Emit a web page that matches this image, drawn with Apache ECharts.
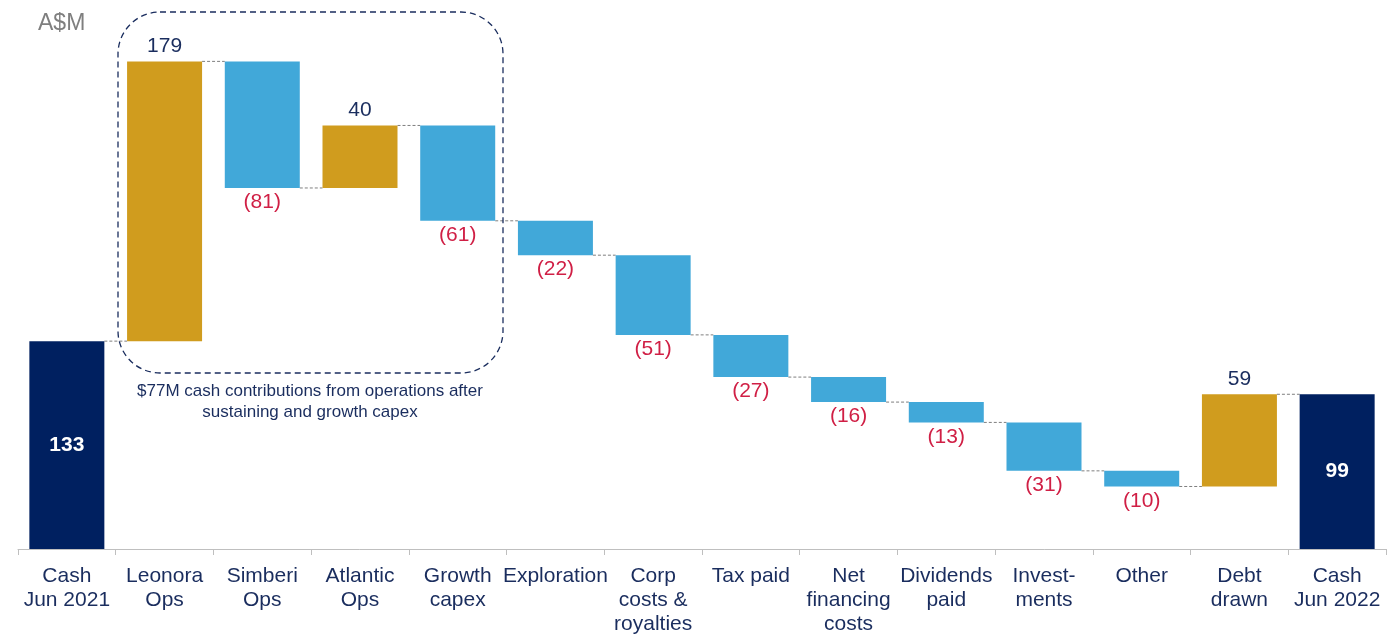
<!DOCTYPE html>
<html>
<head>
<meta charset="utf-8">
<script src="https://cdn.jsdelivr.net/npm/echarts@6/dist/echarts.min.js"></script>
<style>
html,body{margin:0;padding:0;background:#fff;}
#c{width:1399px;height:635px;}
</style>
</head>
<body>
<div id="c"></div>
<script>
const categories = ['Cash\nJun 2021','Leonora\nOps','Simberi\nOps','Atlantic\nOps','Growth\ncapex','Exploration','Corp\ncosts &\nroyalties','Tax paid','Net\nfinancing\ncosts','Dividends\npaid','Invest-\nments','Other','Debt\ndrawn','Cash\nJun 2022'];
const changes = [133,179,-81,40,-61,-22,-51,-27,-16,-13,-31,-10,59,99];
const kinds = ['total','up','down','up','down','down','down','down','down','down','down','down','up','total'];

const NAVY = '#002060', GOLD = '#D09C1E', BLUE = '#41A8D9';
const TXT = '#1A2D5E', RED = '#D01F45';
const FONT = 'Liberation Sans, Arial, sans-serif';

const base = [], height = [], levels = [];
let level = 0;
changes.forEach((v, i) => {
  if (kinds[i] === 'total') { base.push(0); height.push(v); level = v; }
  else if (v >= 0) { base.push(level); height.push(v); level += v; }
  else { level += v; base.push(level); height.push(-v); }
  levels.push(level);
});

const barData = height.map((h, i) => {
  const k = kinds[i];
  const color = k === 'total' ? NAVY : (k === 'up' ? GOLD : BLUE);
  let label;
  if (k === 'total') label = {show:true, position:'inside', color:'#fff', fontWeight:'bold', fontSize:21, fontFamily:FONT, formatter: String(changes[i])};
  else if (k === 'up') label = {show:true, position:'top', distance:5, color:TXT, fontSize:21, fontFamily:FONT, formatter: String(changes[i])};
  else label = {show:true, position:'bottom', distance:4, color:RED, fontSize:21, fontFamily:FONT, formatter: '(' + (-changes[i]) + ')'};
  return {value:h, itemStyle:{color}, label};
});

const connData = levels.slice(0, levels.length - 1).map((l, i) => [i, l]);
const BW = 75;

const chart = echarts.init(document.getElementById('c'), null, {renderer:'canvas'});
chart.setOption({
  animation:false,
  textStyle:{fontFamily:FONT},
  grid:{left:18, right:13, top:2, bottom:86, containLabel:false, outerBoundsMode:'none'},
  xAxis:{
    type:'category', data:categories,
    axisLine:{lineStyle:{color:'#BFBFBF', width:1}},
    axisTick:{show:true, length:6, lineStyle:{color:'#BFBFBF'}},
    axisLabel:{color:TXT, fontSize:21, lineHeight:24, margin:15, interval:0, fontFamily:FONT}
  },
  yAxis:{type:'value', min:0, max:350, show:false, splitLine:{show:false}},
  series:[
    {type:'bar', stack:'w', data:base, barWidth:BW, itemStyle:{color:'transparent'}, silent:true},
    {type:'bar', stack:'w', data:barData, barWidth:BW},
    {type:'custom', data:connData, z:1, silent:true,
      renderItem:function(params, api){
        const i = api.value(0), l = api.value(1);
        const p1 = api.coord([i, l]), p2 = api.coord([i + 1, l]);
        return {type:'line', shape:{x1:p1[0] + BW/2, y1:p1[1], x2:p2[0] - BW/2, y2:p2[1]},
          style:{stroke:'#7F7F7F', lineWidth:1, lineDash:[3,2]}};
      }}
  ],
  graphic:[
    {type:'text', left:38, top:12, style:{text:'A$M', fill:'#7F7F7F', fontSize:23, fontFamily:FONT}},
    {type:'rect', shape:{x:118, y:12, width:385, height:361, r:42}, style:{fill:'none', stroke:'#1A2D5E', lineWidth:1.3, lineDash:[6,4]}, z:10},
    {type:'text', x:310, y:381, style:{text:'$77M cash contributions from operations after\nsustaining and growth capex', fill:TXT, fontSize:17, lineHeight:21, align:'center', fontFamily:FONT}}
  ]
});
</script>
</body>
</html>
